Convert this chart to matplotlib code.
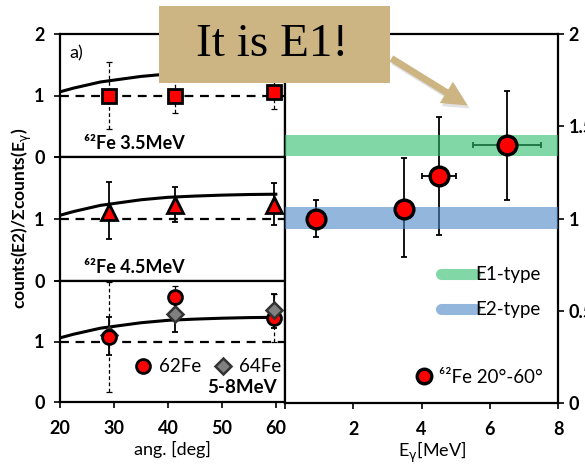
import matplotlib
matplotlib.use("Agg")
import matplotlib.pyplot as plt
from matplotlib.lines import Line2D
from matplotlib.patches import Rectangle, FancyArrowPatch

plt.rcParams['font.family'] = ['Lato', 'DejaVu Sans']
plt.rcParams['mathtext.fontset'] = 'dejavusans'

# ---- angular distributions (left column) ----
angles = [29.0, 41.3, 59.7]

# 62Fe 3.5 MeV
r35 = [1.00, 1.00, 1.06]
r35_err = [0.54, 0.29, 0.28]

# 62Fe 4.5 MeV
r45 = [1.12, 1.22, 1.23]
r45_lo = [0.44, 0.27, 0.33]
r45_hi = [0.48, 0.30, 0.35]

# 5-8 MeV, 62Fe and 64Fe
r62 = [1.07, 1.74, 1.39]
r62_lo = [0.91, 0.18, 0.39]
r62_hi = [0.91, 0.18, 0.39]
r64 = [1.10, 1.46, 1.52]
r64_lo = [0.33, 0.31, 0.29]
r64_hi = [0.31, 0.32, 0.27]

# expected E1 angular-distribution curve
curve_ang = [20, 22.5, 25, 27.5, 30, 32.5, 35, 37.5, 40, 45, 50, 55, 60]
curve_val = [1.06, 1.12, 1.17, 1.22, 1.25, 1.28, 1.31, 1.33, 1.35, 1.37, 1.385, 1.395, 1.40]

# ---- ratio vs gamma energy (right panel) ----
e_gamma = [0.9, 3.5, 4.5, 6.5]
e_err = [0.0, 0.0, 0.5, 1.0]
ratio = [1.00, 1.05, 1.23, 1.40]
ratio_lo = [0.10, 0.26, 0.32, 0.30]
ratio_hi = [0.10, 0.28, 0.32, 0.29]

e1_band = (1.34, 1.455)
e2_band = (0.945, 1.06)

W, H = 585, 467
fig = plt.figure(figsize=(W / 100, H / 100), dpi=100)


def px_axes(x0, y0, x1, y1):
    return fig.add_axes([x0 / W, 1 - y1 / H, (x1 - x0) / W, (y1 - y0) / H])


ax1 = px_axes(60, 34, 285, 157)
ax2 = px_axes(60, 157, 285, 281)
ax3 = px_axes(60, 281, 285, 402)
axr = px_axes(285, 34, 558, 403)

TICK_FS = 13
LAB_FS = 13
SPINE_LW = 1.6

for ax in (ax1, ax2, ax3):
    ax.set_xlim(20, 61.7)
    ax.set_ylim(0, 2)
    ax.set_yticks([0, 1, 2])
    ax.tick_params(axis='y', direction='out', length=4, width=1.2, pad=7,
                   labelsize=TICK_FS, right=False)
    for s in ax.spines.values():
        s.set_linewidth(SPINE_LW)
    ax.axhline(1.0, color='black', lw=1.6, ls=(0, (4, 3)), zorder=1)
    ax.plot(curve_ang, curve_val, color='black', lw=2.2, zorder=2)

ax1.set_yticklabels(['0', '1', '2'], fontweight='bold')
ax2.set_yticklabels(['0', '1', ''], fontweight='bold')
ax3.set_yticklabels(['0', '1', ''], fontweight='bold')
for ax in (ax1, ax2):
    ax.tick_params(axis='x', bottom=False, labelbottom=False)

ax3.set_xticks([20, 30, 40, 50, 60])
ax3.set_xticklabels(['20', '30', '40', '50', '60'], fontweight='bold')
ax3.tick_params(axis='x', direction='out', length=4, width=1.2, pad=9,
                labelsize=TICK_FS)
ax3.set_xlabel('ang. [deg]', fontsize=LAB_FS)
ax3.xaxis.set_label_coords(0.5, -0.32)

# panel 1: squares
eb35 = ax1.errorbar(angles, r35, yerr=r35_err, fmt='none', ecolor='black',
                    elinewidth=0.9, capsize=2, capthick=0.9, zorder=3)
for lc in eb35.lines[2]:
    lc.set_linestyle((0, (3, 2)))
ax1.plot(angles, r35, 's', ms=9.5, mfc='red', mec='black', mew=2, zorder=4)
ax1.text(0.04, 0.80, 'a)', transform=ax1.transAxes, fontsize=LAB_FS)
ax1.text(0.105, 0.11, '\u2076\u00b2Fe 3.5MeV', transform=ax1.transAxes,
         fontsize=LAB_FS, fontweight='bold', va='center')

# panel 2: triangles
ax2.errorbar(angles, r45, yerr=[r45_lo, r45_hi], fmt='none', ecolor='black',
             elinewidth=1.3, capsize=2.5, capthick=1.3, zorder=3)
ax2.plot(angles, r45, '^', ms=11, mfc='red', mec='black', mew=2, zorder=4)
ax2.text(0.105, 0.105, '\u2076\u00b2Fe 4.5MeV', transform=ax2.transAxes,
         fontsize=LAB_FS, fontweight='bold', va='center')

# panel 3: 62Fe circles and 64Fe diamonds
eb62 = ax3.errorbar(angles, r62, yerr=[r62_lo, r62_hi], fmt='none', ecolor='black',
                    elinewidth=0.9, capsize=2, capthick=0.9, zorder=3)
for lc in eb62.lines[2]:
    lc.set_linestyle((0, (3, 2)))
ax3.errorbar(angles, r64, yerr=[r64_lo, r64_hi], fmt='none', ecolor='black',
             elinewidth=1.3, capsize=2.5, capthick=1.3, zorder=3)
ax3.plot(angles, r64, 'D', ms=8.5, mfc='#808080', mec='#333333', mew=1.8, zorder=4)
ax3.plot(angles[:2], r62[:2], 'o', ms=10, mfc='red', mec='black', mew=2, zorder=5)
ax3.plot(angles[2:], r62[2:], 'o', ms=10, mfc='red', mec='black', mew=2, zorder=3.5)
h62 = Line2D([], [], marker='o', ls='none', ms=10, mfc='red', mec='black', mew=2)
h64 = Line2D([], [], marker='D', ls='none', ms=8.5, mfc='#808080', mec='#333333', mew=1.8)
ax3.legend([h62, h64], ['62Fe', '64Fe'], ncol=2, loc='center right',
           bbox_to_anchor=(0.985, 0.29), frameon=False, fontsize=13.5,
           handlelength=0.8, handletextpad=0.45, columnspacing=0.8,
           borderpad=0, borderaxespad=0)
ax3.text(0.965, 0.12, '5-8MeV', transform=ax3.transAxes, fontsize=13.5,
         fontweight='bold', ha='right', va='center')

fig.text(22 / W, 1 - 218 / H, r'counts(E2)/Σcounts(E$_\mathrm{\gamma}$)',
         rotation=90, ha='center', va='center', fontsize=12.5, fontweight='bold')

# ---- right panel ----
axr.set_xlim(0, 8)
axr.set_ylim(0, 2)
axr.set_xticks([0, 2, 4, 6, 8])
axr.set_xticklabels(['', '2', '4', '6', '8'], fontweight='bold')
axr.set_yticks([0, 0.5, 1, 1.5, 2])
axr.set_yticklabels(['0', '0.5', '1', '1.5', '2'], fontweight='bold')
axr.yaxis.tick_right()
axr.tick_params(direction='out', length=4, width=1.2, labelsize=TICK_FS)
axr.tick_params(axis='x', pad=9)
for s in axr.spines.values():
    s.set_linewidth(SPINE_LW)
axr.set_xlabel(r'E$_\mathrm{\gamma}$[MeV]', fontsize=LAB_FS)
axr.xaxis.set_label_coords(0.54, -0.10)

axr.errorbar(e_gamma, ratio, xerr=e_err, yerr=[ratio_lo, ratio_hi], fmt='none',
             ecolor='black', elinewidth=1.3, capsize=2.5, capthick=1.3, zorder=2)
axr.axhspan(*e1_band, color='#2ebd6b', alpha=0.6, lw=0, zorder=3)
axr.axhspan(*e2_band, color='#4a86c5', alpha=0.6, lw=0, zorder=3)
axr.plot(e_gamma, ratio, 'o', ms=13.5, mfc='red', mec='black', mew=2.4, zorder=4)

hb1 = Line2D([], [], color='#2ebd6b', alpha=0.6, lw=8, solid_capstyle='round')
hb2 = Line2D([], [], color='#4a86c5', alpha=0.6, lw=8, solid_capstyle='round')
leg1 = axr.legend([hb1, hb2], ['E1-type', 'E2-type'], loc='upper right',
                  bbox_to_anchor=(0.935, 0.37), frameon=False, fontsize=13.5,
                  handlelength=1.8, handletextpad=0.0, labelspacing=0.95,
                  borderpad=0, borderaxespad=0)
axr.add_artist(leg1)
hfe = Line2D([], [], marker='o', ls='none', ms=10.5, mfc='red', mec='black', mew=2.4)
axr.legend([hfe], ['\u2076\u00b2Fe 20°-60°'], loc='center right',
           bbox_to_anchor=(0.945, 0.07), frameon=False, fontsize=13.5,
           handlelength=1.0, handletextpad=0.3, borderpad=0, borderaxespad=0)

# ---- callout ----
def fx(x):
    return x / W


def fy(y):
    return 1 - y / H


box_color = '#ccb582'
fig.add_artist(Rectangle((fx(159), fy(83)), fx(390) - fx(159), (83 - 6) / H,
                         transform=fig.transFigure, facecolor=box_color,
                         edgecolor='none', zorder=10))
fig.text(fx(272), fy(45), 'It is E1!', family=['Liberation Serif'], fontsize=34,
         ha='center', va='center', zorder=11, color='black')
arrow_style = 'simple,head_length=1.5,head_width=1.5,tail_width=0.42'
fig.add_artist(FancyArrowPatch((fx(391), fy(60)), (fx(472), fy(110)),
                               transform=fig.transFigure, arrowstyle=arrow_style,
                               mutation_scale=12, color='#9e9e9e', alpha=0.3,
                               lw=0, zorder=9))
fig.add_artist(FancyArrowPatch((fx(389), fy(57)), (fx(470), fy(107)),
                               transform=fig.transFigure, arrowstyle=arrow_style,
                               mutation_scale=12, color=box_color, lw=0, zorder=10))

fig.savefig('out.png', dpi=100)
